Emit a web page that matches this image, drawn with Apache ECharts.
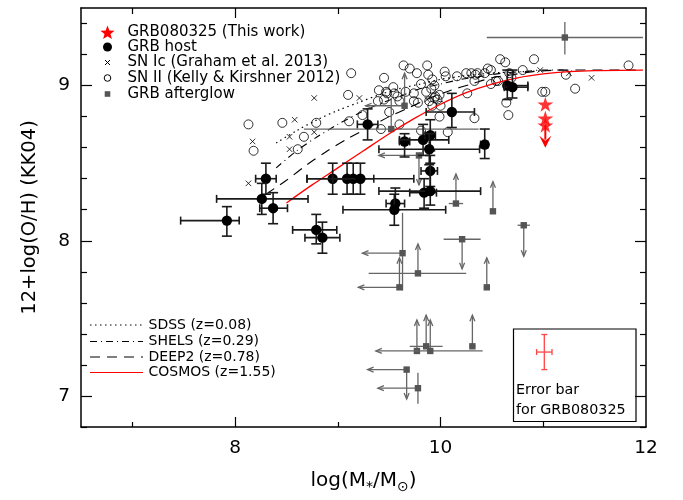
<!DOCTYPE html>
<html>
<head>
<meta charset="UTF-8">
<script src="https://cdn.jsdelivr.net/npm/echarts@6/dist/echarts.min.js"></script>
<style>
  html, body { margin: 0; padding: 0; background: #fff; }
  #main { width: 683px; height: 500px; }
</style>
</head>
<body>
<div id="main"></div>
<script>
// axis ticks
const xMajorTicks = [8, 10];
const xMinorTicks = [7, 9, 11];
const xTickLabels = [8, 10, 12];
const yMajorTicks = [7, 8, 9];
const yMinorTicks = [6.8, 7.2, 7.4, 7.6, 7.8, 8.2, 8.4, 8.6, 8.8, 9.2, 9.4];
const yTickLabels = [7, 8, 9];

// SN II (Kelly & Kirshner 2012): [logM, 12+log(O/H)]
const snII = [
  [8.13, 8.75], [8.18, 8.58], [8.46, 8.76], [8.79, 8.76], [8.67, 8.67], [8.61, 8.59],
  [9.13, 9.08], [9.10, 8.94], [9.11, 8.77], [9.24, 8.81], [9.45, 9.05], [9.64, 9.13],
  [9.70, 9.11], [9.87, 9.13], [9.77, 9.08], [9.88, 9.07], [9.92, 9.04], [10.04, 9.09],
  [10.16, 9.06], [10.25, 9.08], [10.30, 9.08], [10.34, 9.07], [9.54, 8.99], [9.47, 8.96],
  [9.40, 8.97], [9.39, 8.90], [9.45, 8.91], [9.55, 8.95], [9.58, 8.93], [9.66, 8.96],
  [9.74, 8.95], [9.81, 9.01], [9.86, 8.96], [9.91, 8.98], [9.94, 9.00], [9.74, 8.90],
  [9.78, 8.89], [9.89, 8.90], [9.95, 8.93], [9.97, 8.91], [9.99, 8.94], [9.92, 8.87],
  [10.00, 8.87], [10.26, 8.95], [9.42, 8.72], [9.50, 8.83], [9.81, 8.71], [9.99, 8.80],
  [10.33, 8.79], [9.60, 8.75], [10.07, 8.70], [10.46, 9.11], [10.49, 9.10], [10.58, 9.17],
  [10.63, 9.15], [10.54, 9.03], [10.67, 9.08], [10.69, 9.05], [10.80, 9.10], [10.91, 9.17],
  [10.99, 8.96], [10.64, 8.89], [10.66, 8.81], [11.22, 9.07], [11.31, 8.98], [11.83, 9.13],
  [10.43, 9.08], [10.36, 9.08], [10.33, 9.03], [10.56, 9.03], [10.49, 9.01], [9.48, 8.95],
  [9.60, 8.90], [9.94, 8.92], [10.05, 9.06], [11.02, 8.96]
];

// SN Ic (Graham et al. 2013)
const snIc = [
  [8.77, 8.92], [9.21, 8.92], [8.58, 8.78], [8.53, 8.67], [8.77, 8.70], [8.53, 8.59],
  [8.17, 8.64], [8.13, 8.37], [9.87, 8.91], [10.97, 9.10], [11.25, 9.08], [11.47, 9.05]
];

// GRB hosts: [logM, Z, logM low, logM high, Z low, Z high]
const grbHosts = [
  [7.92, 8.13, 7.47, 8.04, 8.03, 8.22],
  [8.30, 8.40, 8.20, 8.40, 8.30, 8.50],
  [8.26, 8.27, 7.82, 8.71, 8.17, 8.37],
  [8.37, 8.21, 8.24, 8.51, 8.11, 8.31],
  [8.79, 8.07, 8.56, 8.99, 7.98, 8.17],
  [8.85, 8.02, 8.68, 9.02, 7.92, 8.12],
  [8.95, 8.40, 8.70, 9.20, 8.30, 8.50],
  [9.09, 8.40, 8.95, 9.23, 8.30, 8.50],
  [9.15, 8.40, 8.95, 9.35, 8.30, 8.50],
  [9.22, 8.40, 8.70, 9.74, 8.30, 8.50],
  [9.29, 8.75, 9.19, 9.39, 8.65, 8.85],
  [10.11, 8.83, 9.86, 10.33, 8.73, 8.95],
  [9.65, 8.64, 9.60, 9.70, 8.54, 8.69],
  [9.83, 8.65, 9.60, 10.08, 8.55, 8.75],
  [9.90, 8.68, 9.85, 9.95, 8.58, 8.78],
  [9.89, 8.59, 9.40, 10.38, 8.49, 8.69],
  [9.90, 8.45, 9.81, 9.97, 8.35, 8.55],
  [9.84, 8.31, 9.70, 9.96, 8.21, 8.40],
  [9.90, 8.32, 9.40, 10.39, 8.23, 8.50],
  [9.56, 8.24, 9.47, 9.65, 8.20, 8.34],
  [9.55, 8.20, 9.05, 10.05, 8.10, 8.30],
  [10.65, 9.00, 10.62, 10.85, 8.91, 9.10],
  [10.70, 8.99, 10.62, 10.85, 8.92, 9.10],
  [10.43, 8.62, 10.39, 10.46, 8.53, 8.72]
];

// GRB afterglows: [logM, Z, logM low, logM high, Z low, Z high, arrow end logM, arrow end Z]
const grbAfterglows = [
  [10.15, 8.24, 10.08, 10.22, 8.24, 8.24, 10.15, 8.43],
  [10.51, 8.19, 10.51, 10.51, 8.19, 8.19, 10.51, 8.38],
  [10.81, 8.10, 10.75, 10.87, 8.10, 8.10, 10.81, 7.90],
  [10.21, 8.01, 10.03, 10.39, 8.01, 8.01, 10.21, 7.82],
  [9.63, 7.92, 9.63, 9.63, 7.68, 8.18, 9.24, 7.92],
  [9.60, 7.70, 9.60, 9.60, 7.70, 7.70, 9.20, 7.89],
  [9.78, 7.79, 9.30, 10.25, 7.79, 7.79, 9.78, 7.98],
  [10.45, 7.70, 10.45, 10.45, 7.70, 7.70, 10.45, 7.89],
  [9.77, 7.29, 9.77, 9.77, 7.29, 7.29, 9.77, 7.49],
  [9.86, 7.32, 9.70, 10.02, 7.32, 7.32, 9.86, 7.52],
  [9.90, 7.29, 9.90, 10.41, 7.29, 7.29, 9.37, 7.49],
  [10.31, 7.32, 10.28, 10.34, 7.32, 7.32, 10.31, 7.52],
  [9.67, 7.17, 9.67, 9.67, 7.17, 7.17, 9.29, 6.98],
  [9.78, 7.05, 9.78, 9.78, 6.95, 7.15, 9.39, 7.05],
  [11.21, 9.31, 10.45, 11.97, 9.20, 9.41, 11.21, 9.31],
  [9.65, 8.87, 9.65, 9.65, 8.87, 8.87, 9.27, 9.08],
  [9.52, 8.72, 8.67, 10.37, 8.72, 8.92, 9.52, 8.72],
  [9.79, 8.55, 9.79, 9.79, 8.55, 8.55, 9.40, 8.36]
];

// GRB080325 (this work) and its upper-limit arrow [logM, Z from, Z to]
const grb080325 = [[11.02, 8.88], [11.02, 8.79], [11.02, 8.745]];
const grb080325Limit = [[11.02, 8.745, 8.60]];
// typical error bar shown in the inset: [logM, Z, dlogM, dZ]
const grb080325Err = [[11.01, 7.283, 0.075, 0.113]];

// mass-metallicity relations
const sdss = [[8.4, 8.63], [8.6, 8.71], [8.8, 8.78], [9.0, 8.84], [9.2, 8.89], [9.4, 8.94], [9.6, 8.98],
  [9.8, 9.01], [10.0, 9.04], [10.2, 9.06], [10.4, 9.075], [10.6, 9.085], [10.8, 9.09], [11.0, 9.095]];
const shels = [[8.4, 8.47], [8.6, 8.58], [8.8, 8.67], [9.0, 8.75], [9.2, 8.82], [9.4, 8.88], [9.6, 8.93],
  [9.8, 8.98], [10.0, 9.01], [10.2, 9.04], [10.4, 9.06], [10.6, 9.08], [10.8, 9.09], [11.0, 9.10], [11.2, 9.10]];
const deep2 = [[8.3, 8.30], [8.5, 8.39], [8.7, 8.49], [8.9, 8.58], [9.1, 8.66], [9.3, 8.73], [9.5, 8.80],
  [9.7, 8.86], [9.9, 8.92], [10.1, 8.97], [10.3, 9.01], [10.5, 9.05], [10.7, 9.07], [10.9, 9.09],
  [11.2, 9.10], [11.5, 9.10], [11.9, 9.10]];
const cosmos = [[8.5, 8.244], [8.75, 8.36], [9.0, 8.47], [9.25, 8.58], [9.5, 8.69], [9.75, 8.79],
  [10.0, 8.88], [10.25, 8.955], [10.5, 9.01], [10.75, 9.05], [11.0, 9.075], [11.25, 9.09], [11.5, 9.097], [11.97, 9.1]];

const FONT = 'DejaVu Sans';
const STAR = 'path://M50,0L61,35L98,35L68,57L79,91L50,70L21,91L32,57L2,35L39,35Z';
const CROSS = 'path://M0,0L10,10M10,0L0,10';

const chart = echarts.init(document.getElementById('main'));

function seg(a, b, style) {
  return { type: 'line', shape: { x1: a[0], y1: a[1], x2: b[0], y2: b[1] }, style: style };
}
function arrowHead(from, tip, len, half, style) {
  const dx = tip[0] - from[0], dy = tip[1] - from[1];
  const d = Math.sqrt(dx * dx + dy * dy) || 1;
  const ux = dx / d, uy = dy / d;
  const bx = tip[0] - ux * len, by = tip[1] - uy * len;
  return {
    type: 'polyline',
    shape: { points: [[bx - uy * half, by + ux * half], tip, [bx + uy * half, by - ux * half]] },
    style: style
  };
}
function starPoints(cx, cy, R) {
  const pts = [];
  for (let i = 0; i < 10; i++) {
    const rr = i % 2 === 0 ? R : R * 0.42;
    const a = -Math.PI / 2 + i * Math.PI / 5;
    pts.push([cx + rr * Math.cos(a), cy + rr * Math.sin(a)]);
  }
  return pts;
}

function renderHost(params, api) {
  const x = api.value(0), y = api.value(1);
  const c = api.coord([x, y]);
  const l = api.coord([api.value(2), y]), r = api.coord([api.value(3), y]);
  const b = api.coord([x, api.value(4)]), t = api.coord([x, api.value(5)]);
  const st = { stroke: '#1a1a1a', lineWidth: 1.6 };
  return {
    type: 'group',
    children: [
      seg(l, r, st), seg(b, t, st),
      seg([l[0], l[1] - 4], [l[0], l[1] + 4], st), seg([r[0], r[1] - 4], [r[0], r[1] + 4], st),
      seg([b[0] - 5, b[1]], [b[0] + 5, b[1]], st), seg([t[0] - 5, t[1]], [t[0] + 5, t[1]], st),
      { type: 'circle', shape: { cx: c[0], cy: c[1], r: 5.2 }, style: { fill: '#000' } }
    ]
  };
}

function renderAfterglow(params, api) {
  const x = api.value(0), y = api.value(1);
  const c = api.coord([x, y]);
  const st = { stroke: '#666', lineWidth: 1.3, fill: null };
  const kids = [];
  if (api.value(2) !== api.value(3)) {
    kids.push(seg(api.coord([api.value(2), y]), api.coord([api.value(3), y]), st));
  }
  if (api.value(4) !== api.value(5)) {
    kids.push(seg(api.coord([x, api.value(4)]), api.coord([x, api.value(5)]), st));
  }
  if (api.value(6) !== x) {
    const tip = api.coord([api.value(6), y]);
    kids.push(seg(c, tip, st), arrowHead(c, tip, 6, 2.5, st));
  }
  if (api.value(7) !== y) {
    const tip = api.coord([x, api.value(7)]);
    kids.push(seg(c, tip, st), arrowHead(c, tip, 6, 2.5, st));
  }
  kids.push({ type: 'rect', shape: { x: c[0] - 3.2, y: c[1] - 3.2, width: 6.4, height: 6.4 }, style: { fill: '#555' } });
  return { type: 'group', children: kids };
}

function renderLimit(params, api) {
  const a = api.coord([api.value(0), api.value(1)]);
  const tip = api.coord([api.value(0), api.value(2)]);
  return {
    type: 'group',
    children: [
      seg(a, [tip[0], tip[1] - 8], { stroke: '#ff0000', lineWidth: 2 }),
      { type: 'polygon', shape: { points: [[tip[0] - 6, tip[1] - 12], tip, [tip[0] + 6, tip[1] - 12], [tip[0], tip[1] - 7]] },
        style: { fill: '#ff0000' } }
    ]
  };
}

function renderErrDemo(params, api) {
  const x = api.value(0), y = api.value(1);
  const l = api.coord([x - api.value(2), y]), r = api.coord([x + api.value(2), y]);
  const b = api.coord([x, y - api.value(3)]), t = api.coord([x, y + api.value(3)]);
  const st = { stroke: '#ff4444', lineWidth: 1.3 };
  return {
    type: 'group',
    children: [
      seg(l, r, st), seg(b, t, st),
      seg([l[0], l[1] - 3], [l[0], l[1] + 3], st), seg([r[0], r[1] - 3], [r[0], r[1] + 3], st),
      seg([b[0] - 3, b[1]], [b[0] + 3, b[1]], st), seg([t[0] - 3, t[1]], [t[0] + 3, t[1]], st)
    ]
  };
}

const lineBase = { type: 'line', showSymbol: false, symbol: 'none', smooth: 0.3, z: 3, silent: true };
const axisCommon = { type: 'value', splitLine: { show: false } };
const frame = { show: true, onZero: false, lineStyle: { color: '#000', width: 1.5 } };
const tickStyle = { color: '#000', width: 1.2 };

function xAxisDef(pos, ticks, len, withLine, labels) {
  return Object.assign({}, axisCommon, {
    min: 6.5, max: 12, position: pos,
    axisLine: withLine ? frame : { show: false },
    axisTick: { show: true, inside: true, length: len, customValues: ticks, lineStyle: tickStyle },
    axisLabel: labels ? { customValues: labels, fontSize: 18.5, color: '#000', fontFamily: FONT, margin: 12 } : { show: false }
  });
}
function yAxisDef(pos, ticks, len, withLine, labels) {
  return Object.assign({}, axisCommon, {
    min: 6.8, max: 9.5, position: pos,
    axisLine: withLine ? frame : { show: false },
    axisTick: { show: true, inside: true, length: len, customValues: ticks, lineStyle: tickStyle },
    axisLabel: labels ? { customValues: labels, fontSize: 18.5, color: '#000', fontFamily: FONT, margin: 11 } : { show: false }
  });
}

const xMain = xAxisDef('bottom', xMajorTicks, 10, true, xTickLabels);
xMain.name = 'log(M{s|*}/M{s|⊙})';
xMain.nameLocation = 'middle';
xMain.nameGap = 40;
xMain.nameTextStyle = {
  fontSize: 20, fontFamily: FONT, color: '#000',
  rich: { s: { fontSize: 14, fontFamily: FONT, color: '#000', padding: [13, 0, 0, 0] } }
};
const yMain = yAxisDef('left', yMajorTicks, 11, true, yTickLabels);
yMain.name = '12+log(O/H) (KK04)';
yMain.nameLocation = 'middle';
yMain.nameGap = 41;
yMain.nameTextStyle = { fontSize: 19.5, fontFamily: FONT, color: '#000' };

// legend drawn with graphic shapes
const legendRows = [
  { text: 'GRB080325 (This work)', y: 32 },
  { text: 'GRB host', y: 47 },
  { text: 'SN Ic (Graham et al. 2013)', y: 62.5 },
  { text: 'SN II (Kelly & Kirshner 2012)', y: 78 },
  { text: 'GRB afterglow', y: 94 }
];
const lineLegend = [
  { text: 'SDSS (z=0.08)', y: 325, dash: [1.5, 3.5], color: '#000' },
  { text: 'SHELS (z=0.29)', y: 341.5, dash: [7, 4, 1, 4], color: '#000' },
  { text: 'DEEP2 (z=0.78)', y: 357, dash: [10, 7], color: '#000' },
  { text: 'COSMOS (z=1.55)', y: 372.5, dash: null, color: '#ff0000' }
];
const lx = 107.5;
const graphics = [
  { type: 'polygon', shape: { points: starPoints(lx, 33, 7.5) }, style: { fill: '#ff0000' } },
  { type: 'circle', shape: { cx: lx, cy: 47, r: 4.5 }, style: { fill: '#000' } },
  { type: 'line', shape: { x1: lx - 2.5, y1: 60, x2: lx + 2.5, y2: 65 }, style: { stroke: '#000', lineWidth: 1 } },
  { type: 'line', shape: { x1: lx + 2.5, y1: 60, x2: lx - 2.5, y2: 65 }, style: { stroke: '#000', lineWidth: 1 } },
  { type: 'circle', shape: { cx: lx, cy: 78, r: 3.3 }, style: { fill: null, stroke: '#000', lineWidth: 1 } },
  { type: 'rect', shape: { x: lx - 2.8, y: 91.2, width: 5.6, height: 5.6 }, style: { fill: '#555' } },
  // inset box
  { type: 'rect', shape: { x: 513.5, y: 329, width: 122.5, height: 92.5 }, style: { fill: null, stroke: '#000', lineWidth: 1.2 } },
  { type: 'text', x: 516, y: 390, style: { text: 'Error bar', font: '14.3px "DejaVu Sans"', fill: '#000', textVerticalAlign: 'middle' } },
  { type: 'text', x: 516, y: 410, style: { text: 'for GRB080325', font: '14.3px "DejaVu Sans"', fill: '#000', textVerticalAlign: 'middle' } }
];
legendRows.forEach(function (r) {
  graphics.push({ type: 'text', x: 127.5, y: r.y, style: { text: r.text, font: '15px "DejaVu Sans"', fill: '#000', textVerticalAlign: 'middle' } });
});
lineLegend.forEach(function (r) {
  graphics.push({ type: 'line', shape: { x1: 90, y1: r.y, x2: 143, y2: r.y },
    style: { stroke: r.color, lineWidth: 1.1, lineDash: r.dash } });
  graphics.push({ type: 'text', x: 148.5, y: r.y, style: { text: r.text, font: '14px "DejaVu Sans"', fill: '#000', textVerticalAlign: 'middle' } });
});

const option = {
  animation: false,
  backgroundColor: '#fff',
  grid: { left: 81, right: 37, top: 8, bottom: 73 },
  xAxis: [
    xMain,
    xAxisDef('bottom', xMinorTicks, 5, false, null),
    xAxisDef('top', xMajorTicks, 10, true, null),
    xAxisDef('top', xMinorTicks, 6, false, null)
  ],
  yAxis: [
    yMain,
    yAxisDef('left', yMinorTicks, 6, false, null),
    yAxisDef('right', yMajorTicks, 11, true, null),
    yAxisDef('right', yMinorTicks, 6, false, null)
  ],
  graphic: graphics,
  series: [
    Object.assign({}, lineBase, { name: 'SDSS (z=0.08)', data: sdss, lineStyle: { color: '#000', width: 1.2, type: [1.5, 3.5] } }),
    Object.assign({}, lineBase, { name: 'SHELS (z=0.29)', data: shels, lineStyle: { color: '#000', width: 1.1, type: [7, 4, 1, 4] } }),
    Object.assign({}, lineBase, { name: 'DEEP2 (z=0.78)', data: deep2, lineStyle: { color: '#000', width: 1.1, type: [10, 7] } }),
    {
      name: 'SN II (Kelly & Kirshner 2012)', type: 'scatter', data: snII, symbol: 'circle', symbolSize: 9, z: 2,
      itemStyle: { color: 'rgba(0,0,0,0)', borderColor: '#000', borderWidth: 1 }
    },
    {
      name: 'SN Ic (Graham et al. 2013)', type: 'scatter', data: snIc, symbol: CROSS, symbolSize: 5.5, z: 2,
      itemStyle: { color: 'rgba(0,0,0,0)', borderColor: '#000', borderWidth: 1 }
    },
    {
      name: 'GRB afterglow', type: 'custom', data: grbAfterglows, renderItem: renderAfterglow, z: 4,
      encode: { x: 0, y: 1 }
    },
    Object.assign({}, lineBase, { name: 'COSMOS (z=1.55)', data: cosmos, smooth: 0.3, z: 5, lineStyle: { color: '#ff0000', width: 1.3 } }),
    {
      name: 'GRB host', type: 'custom', data: grbHosts, renderItem: renderHost, z: 6,
      encode: { x: 0, y: 1 }
    },
    {
      name: 'GRB080325 limit', type: 'custom', data: grb080325Limit, renderItem: renderLimit, z: 7,
      encode: { x: 0, y: 1 }
    },
    {
      name: 'GRB080325 (This work)', type: 'scatter', data: grb080325, symbol: STAR, symbolSize: [16, 15], z: 8,
      itemStyle: { color: '#ff0000' }
    },
    {
      name: 'Error bar', type: 'custom', data: grb080325Err, renderItem: renderErrDemo, z: 8,
      encode: { x: 0, y: 1 }
    }
  ]
};
chart.setOption(option);
</script>
</body>
</html>
